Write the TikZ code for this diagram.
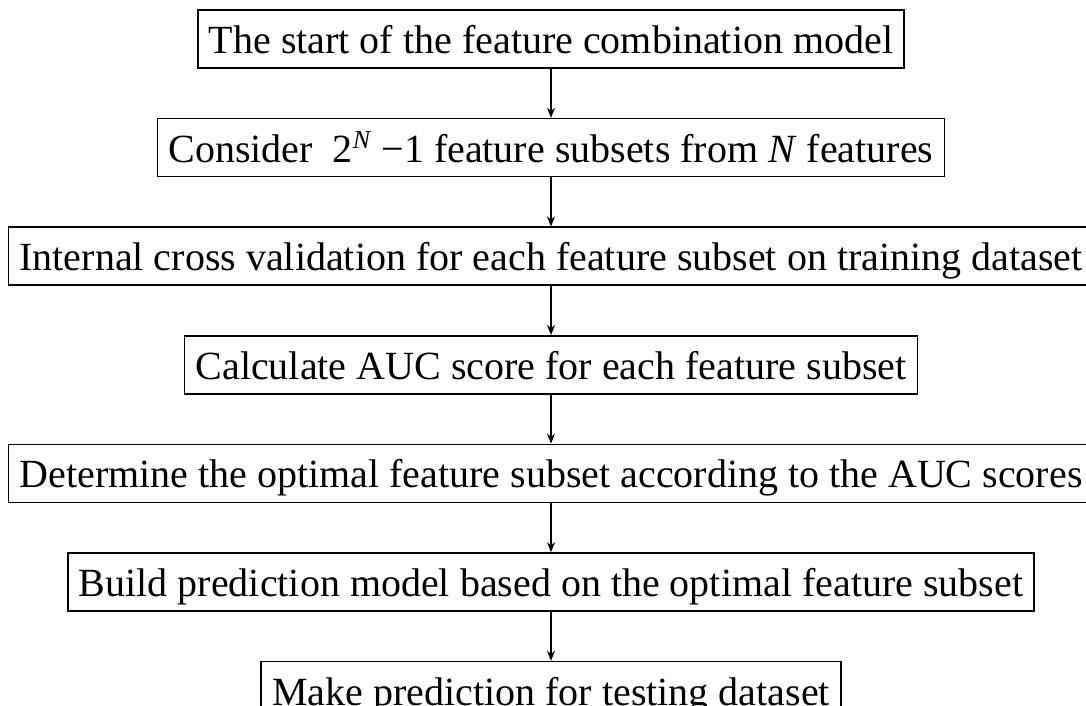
\documentclass[tikz,border=0pt]{standalone}
\usepackage{fontspec}
\setmainfont{Liberation Serif}
\usetikzlibrary{positioning,arrows.meta}

\begin{document}
\begin{tikzpicture}[x = 1pt, y = 1pt, node distance = 49pt,
    stepbox/.style = {draw, line width = 1.6pt, minimum height = 58pt,
      inner xsep = 11pt, inner ysep = 0pt, text height = 29pt, text depth = 0pt,
      font = \fontsize{40}{48}\selectfont},
    flow/.style = {-{Stealth[length = 10pt, width = 8pt]}, line width = 1.2pt}]
  \useasboundingbox (0,0) rectangle (1086,-706);
  \node[stepbox] (start) at (551,-39) {The start of the feature combination model};
  \node[stepbox, below = of start] (subsets) {Consider\ \ 2\raisebox{14pt}{\fontsize{26}{30}\selectfont\textit{N}}\ −1 feature subsets from \textit{N} features};
  \node[stepbox, below = of subsets] (crossval) {Internal cross validation for each feature subset on training dataset};
  \node[stepbox, below = of crossval] (auc) {Calculate AUC score for each feature subset};
  \node[stepbox, below = of auc] (optimal) {Determine the optimal feature subset according to the AUC scores};
  \node[stepbox, below = of optimal] (build) {Build prediction model based on the optimal feature subset};
  \node[stepbox, below = of build] (predict) {Make prediction for testing dataset};
  % arrows down the chain
  \foreach \from/\to in {start/subsets, subsets/crossval, crossval/auc, auc/optimal, optimal/build, build/predict}
    \draw[flow] (\from) -- (\to);
\end{tikzpicture}
\end{document}
